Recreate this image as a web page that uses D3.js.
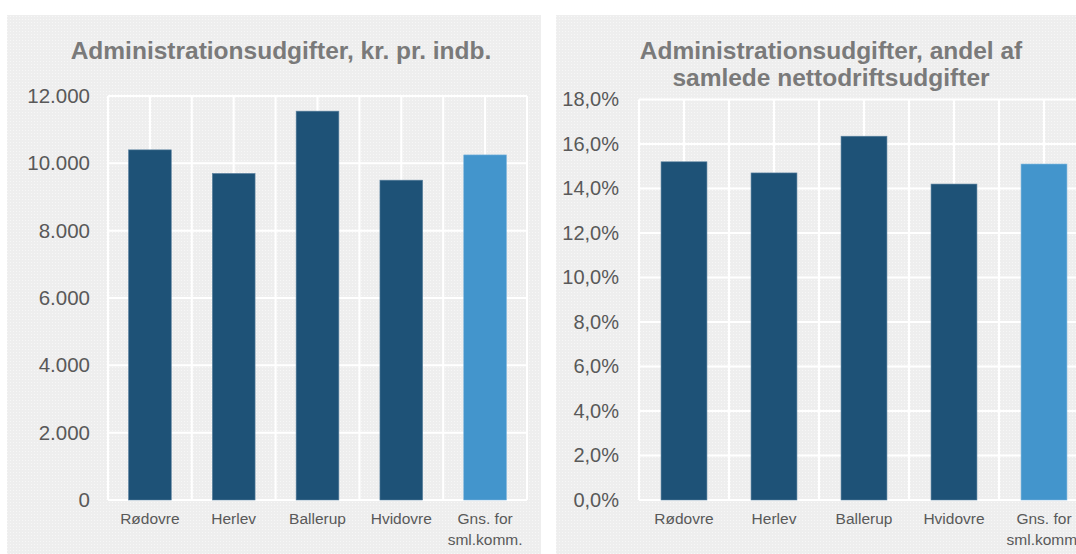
<!DOCTYPE html>
<html>
<head>
<meta charset="utf-8">
<script src="https://cdn.jsdelivr.net/npm/d3@7"></script>
<style>
  body { margin: 0; background: #fff; }
  svg { display: block; font-family: "Liberation Sans", Arial, sans-serif; }
</style>
</head>
<body>
<div id="chart"></div>
<script>
// data
var categories = ["Rødovre", "Herlev", "Ballerup", "Hvidovre", "Gns. for\nsml.komm."];
var kronerPerIndb = [10400, 9700, 11550, 9500, 10250];
var andelPct = [15.2, 14.7, 16.35, 14.2, 15.1];
var kronerTicks = [0, 2000, 4000, 6000, 8000, 10000, 12000];
var andelTicks = [0, 2, 4, 6, 8, 10, 12, 14, 16, 18];
var barColors = ["#1e5277", "#1e5277", "#1e5277", "#1e5277", "#4395cc"];

var da = d3.formatLocale({decimal: ",", thousands: ".", grouping: [3], currency: ["", " kr."]});
var fmtKr = da.format(",.0f");
var fmtPct = function(v) { return da.format(".1f")(v) + "%"; };

var svg = d3.select("#chart").append("svg")
    .attr("width", 1076)
    .attr("height", 554);

// dotted panel texture
var pat = svg.append("defs").append("pattern")
    .attr("id", "dots")
    .attr("width", 3).attr("height", 3)
    .attr("patternUnits", "userSpaceOnUse");
pat.append("rect").attr("width", 3).attr("height", 3).attr("fill", "#eeeeee");
pat.append("rect").attr("x", 1).attr("y", 1).attr("width", 1).attr("height", 1).attr("fill", "#f7f7f7");

var drawChart = function(cfg) {
    var g = svg.append("g");

    g.append("rect")
        .attr("x", cfg.panel[0]).attr("y", cfg.panel[1])
        .attr("width", cfg.panel[2]).attr("height", cfg.panel[3])
        .attr("fill", "url(#dots)");

    var x = d3.scaleBand().domain(categories).range([cfg.left, cfg.right]);
    var y = d3.scaleLinear().domain([0, d3.max(cfg.ticks)]).range([cfg.bottom, cfg.top]);

    // vertical grid: band edges and band centres
    var vlines = [cfg.left];
    categories.forEach(function(c) {
        vlines.push(x(c) + x.bandwidth() / 2);
        vlines.push(x(c) + x.bandwidth());
    });
    g.append("g").selectAll("line")
        .data(vlines)
        .enter().append("line")
        .attr("x1", function(d) { return d; }).attr("x2", function(d) { return d; })
        .attr("y1", cfg.top).attr("y2", cfg.bottom)
        .attr("stroke", "#fff").attr("stroke-width", 2);

    // horizontal grid
    g.append("g").selectAll("line")
        .data(cfg.ticks)
        .enter().append("line")
        .attr("x1", cfg.left).attr("x2", cfg.right)
        .attr("y1", function(d) { return y(d); }).attr("y2", function(d) { return y(d); })
        .attr("stroke", "#fff").attr("stroke-width", 2);

    // bars
    var bw = x.bandwidth() * 0.51;
    g.append("g").selectAll("rect")
        .data(cfg.values)
        .enter().append("rect")
        .attr("x", function(d, i) { return x(categories[i]) + (x.bandwidth() - bw) / 2; })
        .attr("y", function(d) { return y(d); })
        .attr("width", bw)
        .attr("height", function(d) { return y(0) - y(d); })
        .attr("fill", function(d, i) { return barColors[i]; })
        .attr("stroke", function(d, i) { return i == 4 ? "#7fb6dc" : "#5d83a0"; })
        .attr("stroke-width", 0.6);

    // y axis
    var ya = g.append("g")
        .attr("transform", "translate(" + cfg.labelX + ",0)")
        .call(d3.axisLeft(y).tickValues(cfg.ticks).tickFormat(cfg.fmt).tickSize(0).tickPadding(0));
    ya.select(".domain").remove();
    ya.selectAll("text")
        .attr("font-family", "Liberation Sans, Arial, sans-serif")
        .attr("font-size", cfg.yFont)
        .attr("fill", "#595959");

    // x axis
    var xa = g.append("g")
        .attr("transform", "translate(0," + cfg.bottom + ")")
        .call(d3.axisBottom(x).tickSize(0).tickPadding(0));
    xa.select(".domain").remove();
    xa.selectAll("text").each(function(d) {
        var t = d3.select(this).text("")
            .attr("font-family", "Liberation Sans, Arial, sans-serif")
            .attr("font-size", 15.5)
            .attr("fill", "#595959")
            .attr("y", 0).attr("dy", null);
        d.split("\n").forEach(function(line, i) {
            t.append("tspan")
                .attr("x", 0)
                .attr("y", 24 + i * 21)
                .text(line);
        });
    });

    // title
    var tt = g.append("text")
        .attr("text-anchor", "middle")
        .attr("font-size", 24.5)
        .attr("font-weight", "bold")
        .attr("fill", "#7a7a7a");
    cfg.title.forEach(function(line, i) {
        tt.append("tspan")
            .attr("x", cfg.titleX)
            .attr("y", cfg.titleY + i * 27)
            .text(line);
    });
};

drawChart({
    panel: [7, 15, 534, 539],
    left: 108, right: 527, top: 96, bottom: 500,
    labelX: 90, yFont: 20.5,
    ticks: kronerTicks, values: kronerPerIndb, fmt: fmtKr,
    title: ["Administrationsudgifter, kr. pr. indb."],
    titleX: 281, titleY: 59
});

drawChart({
    panel: [556, 15, 540, 539],
    left: 639, right: 1089, top: 99.5, bottom: 500,
    labelX: 619, yFont: 20,
    ticks: andelTicks, values: andelPct, fmt: fmtPct,
    title: ["Administrationsudgifter, andel af", "samlede nettodriftsudgifter"],
    titleX: 831, titleY: 59
});
</script>
</body>
</html>
